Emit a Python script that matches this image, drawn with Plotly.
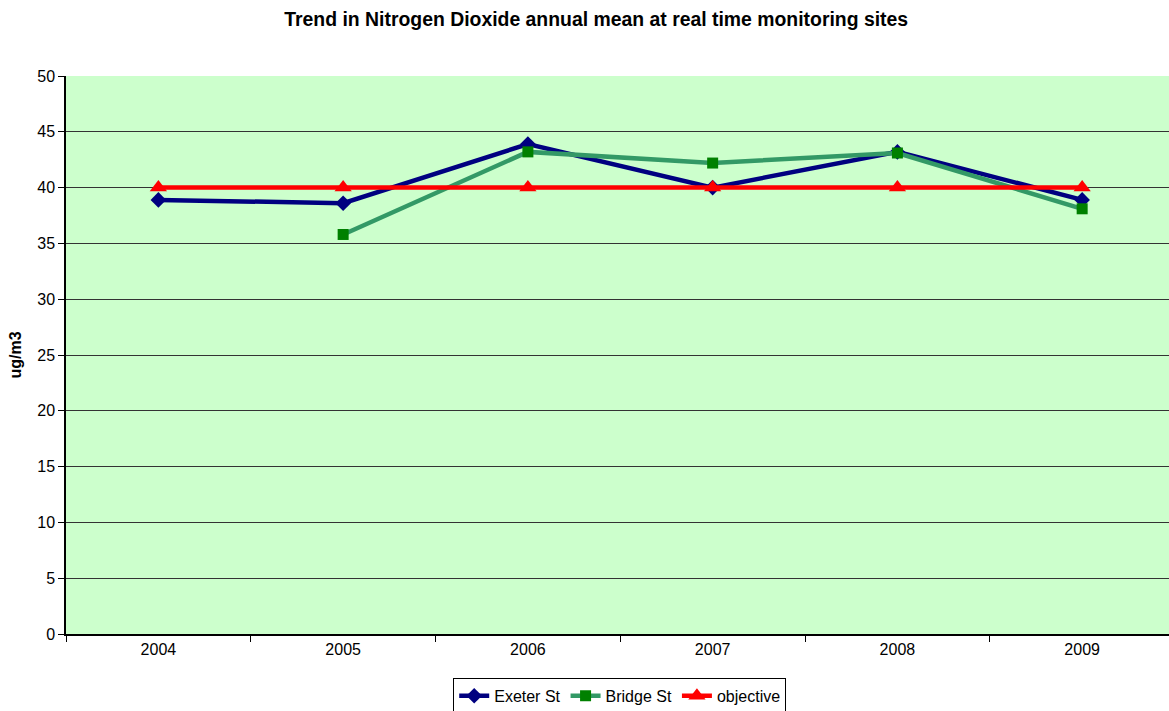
import plotly.graph_objects as go

years = ["2004", "2005", "2006", "2007", "2008", "2009"]
exeter_st = [38.9, 38.6, 43.9, 40.0, 43.2, 38.9]
bridge_st = [None, 35.8, 43.2, 42.2, 43.1, 38.1]
objective = [40, 40, 40, 40, 40, 40]

fig = go.Figure()
fig.add_trace(go.Scatter(x=years, y=exeter_st, name="Exeter St", mode="lines+markers",
                         line=dict(color="#000080", width=4.5),
                         marker=dict(symbol="diamond", size=12, color="#000080")))
fig.add_trace(go.Scatter(x=years, y=bridge_st, name="Bridge St", mode="lines+markers",
                         line=dict(color="#339966", width=4.5),
                         marker=dict(symbol="square", size=11, color="#008000")))
fig.add_trace(go.Scatter(x=years, y=objective, name="objective", mode="lines+markers",
                         line=dict(color="#FF0000", width=4.5),
                         marker=dict(symbol="triangle-up", size=15, color="#FF0000")))

fig.update_layout(
    width=1169, height=711,
    margin=dict(l=66, r=0, t=76, b=77, autoexpand=False),
    paper_bgcolor="white", plot_bgcolor="#CCFFCC",
    hovermode=False,
    font=dict(family="Arial, Liberation Sans, sans-serif", size=16, color="black"),
    title=dict(text="<b>Trend in Nitrogen Dioxide annual mean at real time monitoring sites</b>",
               x=0.510, xanchor="center", xref="container",
               y=0.973, yanchor="middle", yref="container",
               font=dict(size=19.4, color="black")),
    showlegend=True,
    legend=dict(orientation="h", x=0.502, xanchor="center", y=-0.0785, yanchor="top",
                bordercolor="black", borderwidth=1, font=dict(size=16),
                tracegroupgap=0),
)
fig.update_xaxes(type="category", range=[-0.5, 5.47], tickson="boundaries",
                 ticks="outside", ticklen=6, tickcolor="black",
                 showline=True, linecolor="black", linewidth=1.5,
                 showgrid=False, zeroline=False, tickfont=dict(size=16))
fig.update_yaxes(range=[0, 50], dtick=5, ticks="outside", ticklen=6, tickcolor="black",
                 showline=True, linecolor="black", linewidth=1.5,
                 showgrid=True, gridcolor="#333333", gridwidth=1, zeroline=False,
                 tickfont=dict(size=16),
                 title=dict(text="<b>ug/m3</b>", font=dict(size=16), standoff=12))

fig.write_html(
    "out.html",
    config={"displayModeBar": False},
    post_script="document.body.style.margin='0';document.body.style.overflow='hidden';",
)
